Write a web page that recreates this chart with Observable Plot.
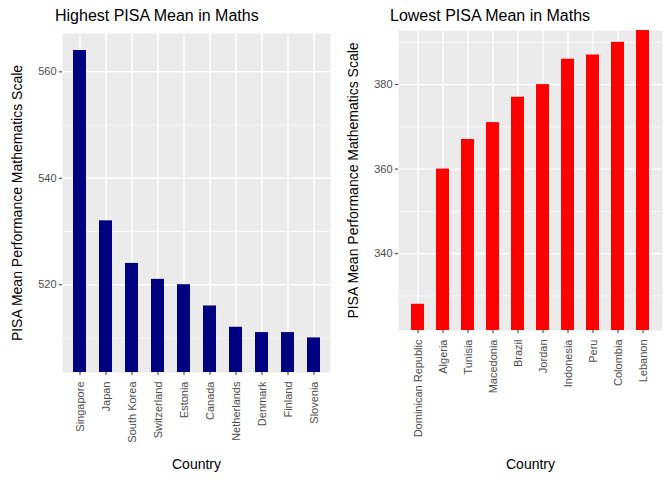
<!DOCTYPE html>
<html><head><meta charset="utf-8">
<script src="https://cdn.jsdelivr.net/npm/d3@7"></script>
<script src="https://cdn.jsdelivr.net/npm/@observablehq/plot@0.6"></script>
<style>
body { margin: 0; background: #fff; font-family: "Liberation Sans", Arial, sans-serif; }
#wrap { display: flex; width: 672px; height: 480px; }
.panel { width: 336px; }
.title { font-size: 16px; height: 28px; line-height: 32px; color: #000; }
g[aria-label="y-axis label"] text, g[aria-label="x-axis label"] text { font-size: 14px; fill: #000; }
</style></head>
<body>
<div id="wrap">
  <div class="panel"><div class="title" style="padding-left:55px">Highest PISA Mean in Maths</div><div id="chart1"></div></div>
  <div class="panel"><div class="title" style="padding-left:54px">Lowest PISA Mean in Maths</div><div id="chart2"></div></div>
</div>
<script>
const highCountries = ["Singapore", "Japan", "South Korea", "Switzerland", "Estonia", "Canada", "Netherlands", "Denmark", "Finland", "Slovenia"]
const highValues = [564, 532, 524, 521, 520, 516, 512, 511, 511, 510]
const lowCountries = ["Dominican Republic", "Algeria", "Tunisia", "Macedonia", "Brazil", "Jordan", "Indonesia", "Peru", "Colombia", "Lebanon"]
const lowValues = [328, 360, 367, 371, 377, 380, 386, 387, 390, 396]

function makeChart(countries, values, color, domain, major, minor, opts) {
    const data = countries.map((c, i) => ({ country: c, value: values[i] }))
    return Plot.plot({
        width: 336,
        height: 452,
        marginLeft: opts.marginLeft,
        marginRight: opts.marginRight,
        marginTop: opts.marginTop,
        marginBottom: opts.marginBottom,
        style: { fontFamily: "Liberation Sans, Arial, sans-serif", fontSize: "11px", color: "#4D4D4D" },
        x: { domain: countries, paddingInner: 0.5, paddingOuter: 0.35, label: null },
        y: { domain: domain, label: null },
        marks: [
            Plot.frame({ fill: "#EBEBEB", stroke: null }),
            Plot.gridY(minor, { stroke: "white", strokeOpacity: 1, strokeWidth: 0.7 }),
            Plot.gridY(major, { stroke: "white", strokeOpacity: 1, strokeWidth: 1.4 }),
            Plot.gridX({ stroke: "white", strokeOpacity: 1, strokeWidth: 1.4 }),
            Plot.barY(data, { x: "country", y: "value", fill: color, clip: true }),
            Plot.axisY(major, { tickSize: 3, tickPadding: 3, stroke: "#333", fill: "#4D4D4D", fontSize: 11,
                label: "PISA Mean Performance Mathematics Scale", labelAnchor: "center", labelArrow: "none", labelOffset: opts.labelOffsetY }),
            Plot.axisX({ tickSize: 3, tickRotate: -90, stroke: "#333", fill: "#4D4D4D", fontSize: 11,
                label: "Country", labelAnchor: "center", labelArrow: "none", labelOffset: opts.labelOffsetX })
        ]
    })
}

let plot1 = makeChart(highCountries, highValues, "#000080", [503.5, 567.2], [520, 540, 560], [510, 530, 550],
    { marginLeft: 62, marginRight: 6, marginTop: 5, marginBottom: 108, labelOffsetY: 50, labelOffsetX: 96 })
let plot2 = makeChart(lowCountries, lowValues, "#FF0000", [321.8, 392.8], [340, 360, 380], [330, 350, 370, 390],
    { marginLeft: 62, marginRight: 10, marginTop: 2, marginBottom: 150, labelOffsetY: 50, labelOffsetX: 138 })

d3.select('#chart1').append(() => plot1)
d3.select('#chart2').append(() => plot2)
</script>
</body></html>
